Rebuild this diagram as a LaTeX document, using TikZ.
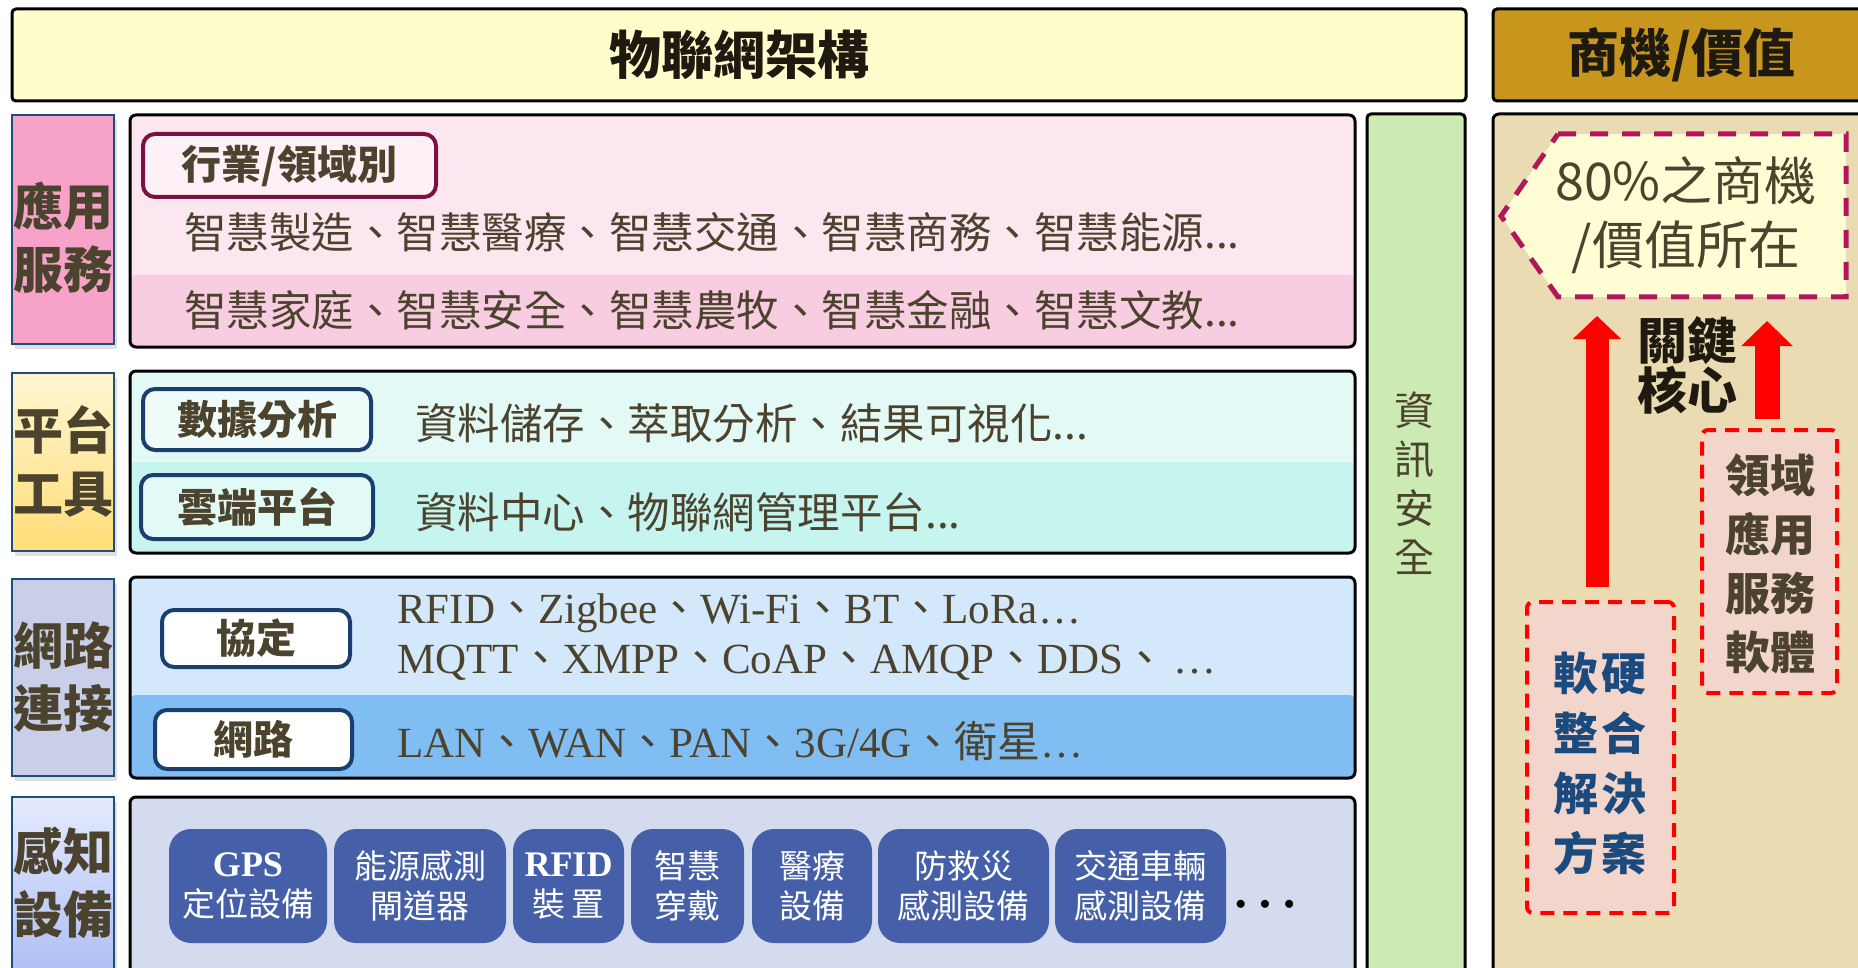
\documentclass[tikz,border=0pt]{standalone}
\usepackage{fontspec}
\setmainfont{Noto Sans CJK TC}
\newfontfamily\tms{Liberation Serif}
\usetikzlibrary{arrows.meta,shadows}
\definecolor{txt}{HTML}{4B432E}
\definecolor{headtxt}{HTML}{1E1A10}
\definecolor{labline}{HTML}{1F4E79}
\definecolor{titlefill}{HTML}{FFFDCC}
\definecolor{bizfill}{HTML}{C8961C}
\definecolor{appfill}{HTML}{F6A2C9}
\definecolor{apptop}{HTML}{FCE6F0}
\definecolor{appbot}{HTML}{F9CDE1}
\definecolor{platlabtop}{HTML}{FFF6D2}
\definecolor{platlabbot}{HTML}{FFDE78}
\definecolor{plattop}{HTML}{E2F9F5}
\definecolor{platbot}{HTML}{C5F5EE}
\definecolor{netfill}{HTML}{C9CFE8}
\definecolor{nettop}{HTML}{D4E8FC}
\definecolor{netbot}{HTML}{80BDF2}
\definecolor{senlabtop}{HTML}{E4EAFF}
\definecolor{senlabbot}{HTML}{A6B8F2}
\definecolor{senfill}{HTML}{D4DBEE}
\definecolor{sensblue}{HTML}{4560A8}
\definecolor{secfill}{HTML}{CCEBB3}
\definecolor{panelfill}{HTML}{EADBB2}
\definecolor{tagred}{HTML}{7B1142}
\definecolor{tagblue}{HTML}{1A3F6E}
\definecolor{tagmag}{HTML}{B0185A}
\definecolor{valfill}{HTML}{FFFDD4}
\definecolor{rosy}{HTML}{F2D5CB}
\definecolor{solblue}{HTML}{1B4A7E}
\newcommand\fsz[2]{\fontsize{#1pt}{#2pt}\selectfont}
\newcommand\dun{{\rmfamily 、}}
\begin{document}
\begin{tikzpicture}
[x=1pt,y=-1pt,
  headbox/.style={draw=black,line width=3pt,rounded corners=4pt,text=headtxt,font=\bfseries\fsz{52}{60}},%
  labbox/.style={draw=labline,line width=2.5pt,minimum width=102pt,drop shadow={opacity=0.25,shadow xshift=3pt,shadow yshift=-5pt}},%
  labtext/.style={text=txt,align=center,font=\bfseries\fsz{50}{63}},%
  layerbox/.style={draw=black,line width=3pt,rounded corners=6pt,minimum width=1225pt},%
  stripfill/.style 2 args={path picture={\fill[#1] (path picture bounding box.south west) rectangle ([yshift=#2]path picture bounding box.south east);}},%
  tagbox/.style={draw=#1,line width=4pt,rounded corners=12pt,text=txt,font=\bfseries\fsz{40}{48},inner sep=0pt},%
  itemtext/.style={anchor=west,inner sep=0pt,text=txt,font=\fsz{42.5}{50}},%
  serifitem/.style={anchor=west,inner sep=0pt,text=txt,font=\tms\fsz{43}{50}},%
  sensorbox/.style={fill=sensblue,rounded corners=22pt,text=white,align=center,font=\fsz{33}{40},minimum height=114pt,inner sep=0pt},%
  dashbox/.style={draw=red,fill=rosy,line width=4pt,dash pattern=on 14pt off 9pt,rounded corners=6pt},%
  bigarrow/.style={draw=red,line width=#1}]
\useasboundingbox (0,0) rectangle (1858,968);
\clip (0,0) rectangle (1858,968);
% headers
\node (title) at (739,55) [headbox,fill=titlefill,minimum width=1454pt,minimum height=92pt] {物聯網架構};
\node (biz) at (1681,55) [headbox,fill=bizfill,minimum width=376pt,minimum height=92pt] {商機/價值};
% layer labels
\node (appl) at (63,229.5) [labbox,fill=appfill,minimum height=229pt] {};
\node (applt) at (63,238) [labtext] {應用\\服務};
\node (platl) at (63,462) [labbox,top color=platlabtop,bottom color=platlabbot,minimum height=178pt] {};
\node (platlt) at (63,461) [labtext] {平台\\工具};
\node (netl) at (63,677.5) [labbox,fill=netfill,minimum height=197pt] {};
\node (netlt) at (63,677.5) [labtext] {網路\\連接};
\node (senl) at (63,898.5) [labbox,top color=senlabtop,bottom color=senlabbot,minimum height=203pt] {};
\node (senlt) at (63,883) [labtext] {感知\\設備};
% layer boxes
\node (appbox) at (742.5,231) [layerbox,fill=apptop,stripfill={appbot}{72pt},minimum height=232pt] {};
\node (platbox) at (742.5,462) [layerbox,fill=plattop,stripfill={platbot}{91pt},minimum height=182pt] {};
\node (netbox) at (742.5,677.5) [layerbox,fill=nettop,stripfill={netbot}{83pt},minimum height=201pt] {};
\node (senbox) at (742.5,898.5) [layerbox,fill=senfill,minimum height=203pt] {};
\node (sec) at (1416,557) [layerbox,fill=secfill,minimum width=98pt,minimum height=886pt,rounded corners=4pt] {};
\node (sect) at (1414,483) [text=txt,align=center,font=\fsz{40}{49}] {資\\訊\\安\\全};
\node (valpanel) at (1681,557) [layerbox,fill=panelfill,minimum width=376pt,minimum height=886pt] {};
% application services
\node (industry) at (289.5,165.5) [tagbox=tagred,fill=apptop!60!white,minimum width=293pt,minimum height=63pt] {行業/領域別};
\node (appi1) at (184,232) [itemtext] {智慧製造、智慧醫療、智慧交通、智慧商務、智慧能源...};
\node (appi2) at (184,310) [itemtext] {智慧家庭、智慧安全、智慧農牧、智慧金融、智慧文教...};
% platform tools
\node (analytic) at (257,419.5) [tagbox=tagblue,fill=plattop!50!white,minimum width=228pt,minimum height=61pt] {數據分析};
\node (plati1) at (415,423) [itemtext] {資料儲存、萃取分析、結果可視化...};
\node (cloud) at (257,507) [tagbox=tagblue,fill=platbot!50!white,minimum width=232pt,minimum height=64pt] {雲端平台};
\node (plati2) at (415,512) [itemtext] {資料中心、物聯網管理平台...};
% network connection
\node (proto) at (256,638.5) [tagbox=tagblue,fill=white,minimum width=188pt,minimum height=57pt] {協定};
\node (neti1) at (397,613) [serifitem] {RFID\dun Zigbee\dun Wi-Fi\dun BT\dun LoRa\ldots};
\node (neti2) at (397,663) [serifitem] {MQTT\dun XMPP\dun CoAP\dun AMQP\dun DDS\dun\,\ldots};
\node (netw) at (253.5,739.5) [tagbox=tagblue,fill=white,minimum width=197pt,minimum height=59pt] {網路};
\node (neti3) at (397,741) [serifitem] {LAN\dun WAN\dun PAN\dun 3G/4G\dun{\rmfamily 衛星}\ldots};
% sensing devices
\node (gps) at (248,886) [sensorbox,minimum width=158pt] {{\tms\bfseries\fsz{36}{40}GPS}\\定位設備};
\node (energy) at (420,886) [sensorbox,minimum width=172pt] {能源感測\\閘道器};
\node (rfid) at (568.5,886) [sensorbox,minimum width=111pt] {{\tms\bfseries\fsz{36}{40}RFID}\\裝\,置};
\node (wear) at (687.5,886) [sensorbox,minimum width=113pt] {智慧\\穿戴};
\node (medic) at (812,886) [sensorbox,minimum width=120pt] {醫療\\設備};
\node (disaster) at (963.5,886) [sensorbox,minimum width=171pt] {防救災\\感測設備};
\node (traffic) at (1140.5,886) [sensorbox,minimum width=171pt] {交通車輛\\感測設備};
\node (more) at (1265,905) [text=black,font=\fsz{22}{22}] {$\bullet\mkern8mu\bullet\mkern8mu\bullet$};
% business value
\draw[draw=tagmag,fill=valfill,line width=5pt,dash pattern=on 18pt off 14pt]
  (1558,134) -- (1846,134) -- (1846,297) -- (1558,297) -- (1501,216) -- cycle;
\node (valtxt) at (1686,215) [text=txt,align=center,font=\fsz{52}{64}] {80\%之商機\\/價值所在};
\node (keycore) at (1687,365) [text=headtxt,align=center,font=\bfseries\fsz{50}{50}] {關鍵\\核心};
\node (domsw) at (1769.5,561.5) [dashbox,minimum width=135pt,minimum height=263pt] {};
\node (domt) at (1770,564) [text=txt,align=center,font=\bfseries\fsz{45}{59}] {領域\\應用\\服務\\軟體};
\node (hwsol) at (1600.5,757.5) [dashbox,minimum width=147pt,minimum height=311pt] {};
\node (hwt) at (1600,764) [text=solblue,align=center,font=\bfseries\fsz{45}{60}] {軟\hspace{3pt}硬\\整\hspace{3pt}合\\解\hspace{3pt}決\\方\hspace{3pt}案};
% arrows
\coordinate (la0) at (1597,587);
\coordinate (la1) at (1597,316);
\coordinate (ra0) at (1767,419);
\coordinate (ra1) at (1767,321);
\draw[bigarrow=23pt,-{Triangle[width=47pt,length=23pt]}] (la0) -- (la1);
\draw[bigarrow=25pt,-{Triangle[width=50pt,length=25pt]}] (ra0) -- (ra1);
\end{tikzpicture}
\end{document}
